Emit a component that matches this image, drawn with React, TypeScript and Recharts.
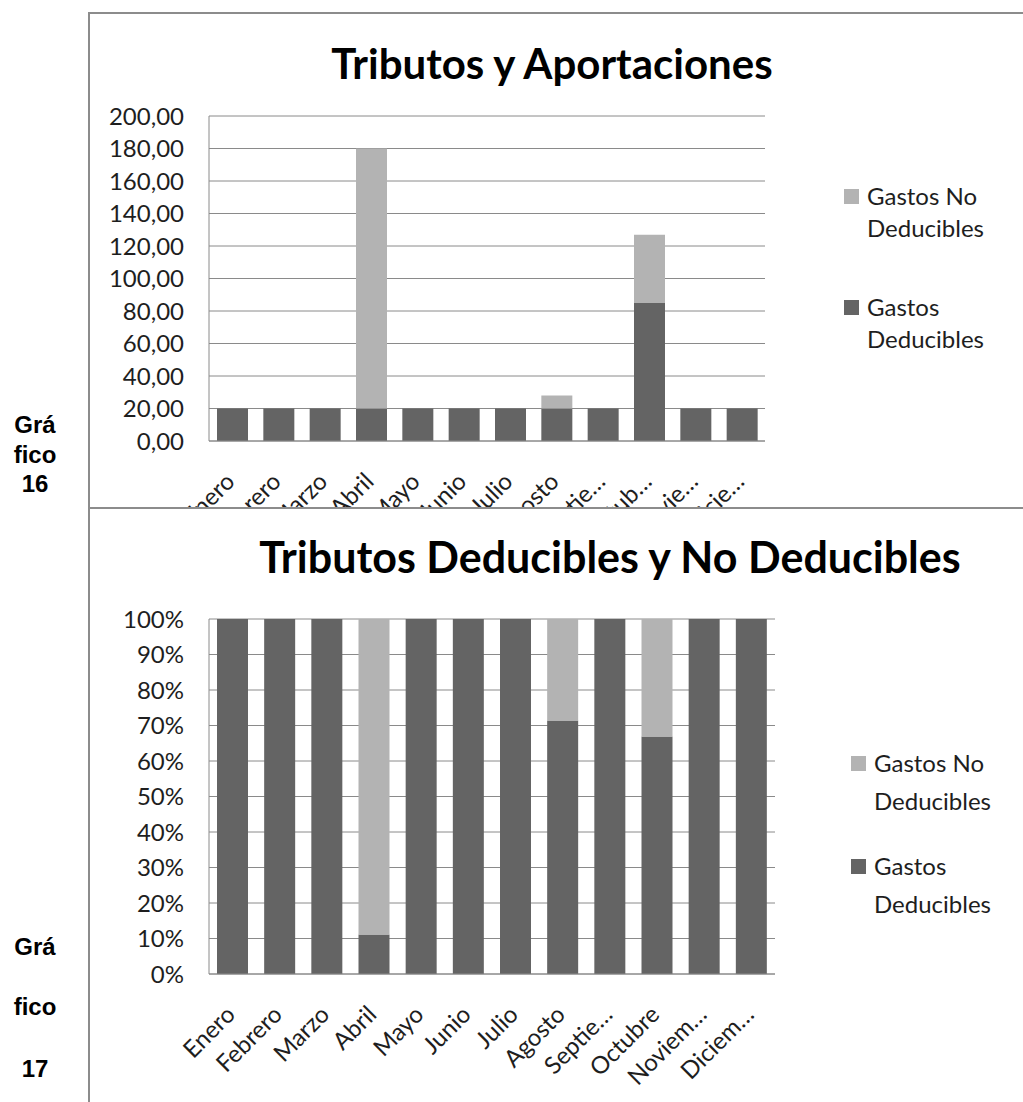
import { Bar, BarChart, CartesianGrid, XAxis, YAxis } from 'recharts';

const months = ['Enero', 'Febrero', 'Marzo', 'Abril', 'Mayo', 'Junio', 'Julio', 'Agosto', 'Septiembre', 'Octubre', 'Noviembre', 'Diciembre'];
const topMonthLabels = ['Enero', 'Febrero', 'Marzo', 'Abril', 'Mayo', 'Junio', 'Julio', 'Agosto', 'Septie…', 'Octub…', 'Novie…', 'Dicie…'];
const bottomMonthLabels = ['Enero', 'Febrero', 'Marzo', 'Abril', 'Mayo', 'Junio', 'Julio', 'Agosto', 'Septie…', 'Octubre', 'Noviem…', 'Diciem…'];
const gastosDeducibles = [20, 20, 20, 20, 20, 20, 20, 20, 20, 85, 20, 20];
const gastosNoDeducibles = [0, 0, 0, 160, 0, 0, 0, 8, 0, 42, 0, 0];
const valueTicks = [0, 20, 40, 60, 80, 100, 120, 140, 160, 180, 200];
const percentTicks = [0, 0.1, 0.2, 0.3, 0.4, 0.5, 0.6, 0.7, 0.8, 0.9, 1];

const data = months.map((mes, i) => ({
  mes,
  deducibles: gastosDeducibles[i],
  noDeducibles: gastosNoDeducibles[i],
}));

const DARK = '#646464';
const LIGHT = '#b3b3b3';
const GRID = '#8a8a8a';
const TEXT = '#1e1e1e';
const FONT = 'Lato, "Open Sans", sans-serif';

function MonthTick({ x, y, payload, labels }: any) {
  const tx = x + 4;
  const ty = y + 40;
  return (
    <text x={tx} y={ty} transform={`rotate(-45, ${tx}, ${ty})`} textAnchor="end" fontSize={24} fontFamily={FONT} fill={TEXT}>
      {labels[payload.index]}
    </text>
  );
}

function Legend({ x, y1, y2, lh }: { x: number; y1: number; y2: number; lh: number }) {
  return (
    <g fontFamily={FONT} fontSize={24} fill={TEXT}>
      <rect x={x} y={y1 - 16} width={15} height={15} fill={LIGHT} />
      <text x={x + 23} y={y1}>Gastos No</text>
      <text x={x + 23} y={y1 + lh}>Deducibles</text>
      <rect x={x} y={y2 - 16} width={15} height={15} fill={DARK} />
      <text x={x + 23} y={y2}>Gastos</text>
      <text x={x + 23} y={y2 + lh}>Deducibles</text>
    </g>
  );
}

function SideLabel({ ys, num }: { ys: number[]; num: string }) {
  return (
    <g fontFamily='"Liberation Sans", Arial, sans-serif' fontWeight="bold" fontSize={24} fill="#000" textAnchor="middle">
      <text x={35} y={ys[0]}>Grá</text>
      <text x={35} y={ys[1]}>fico</text>
      <text x={35} y={ys[2]}>{num}</text>
    </g>
  );
}

const box = (top: number, height: number): React.CSSProperties => ({
  position: 'absolute',
  left: 88,
  top,
  width: 1100,
  height,
  border: '2px solid #8c8c8c',
  background: '#fff',
  boxSizing: 'border-box',
});

export default function App() {
  return (
    <div style={{ position: 'absolute', left: 0, top: 0, width: 1023, height: 1102, overflow: 'hidden', background: '#fff' }}>
      <div style={box(12, 600)} />
      <div style={{ position: 'absolute', left: 88, top: 13 }}>
        <BarChart width={935} height={495} data={data} margin={{ top: 103, right: 258, bottom: 37, left: 0 }} barSize={31}>
          <CartesianGrid vertical={false} stroke={GRID} />
          <XAxis
            dataKey="mes"
            interval={0}
            height={30}
            tickLine={false}
            tickSize={0}
            axisLine={{ stroke: GRID }}
            tick={(p: any) => <MonthTick {...p} labels={topMonthLabels} />}
          />
          <YAxis
            domain={[0, 200]}
            ticks={valueTicks}
            interval={0}
            width={121}
            tickLine={false}
            tickSize={0}
            tickMargin={25}
            axisLine={{ stroke: GRID }}
            tickFormatter={(v: number) => v.toFixed(2).replace('.', ',')}
            tick={{ fill: TEXT, fontSize: 24, fontFamily: FONT }}
          />
          <Bar dataKey="deducibles" stackId="a" fill={DARK} isAnimationActive={false} />
          <Bar dataKey="noDeducibles" stackId="a" fill={LIGHT} isAnimationActive={false} />
        </BarChart>
      </div>

      <div style={box(507, 700)} />
      <div style={{ position: 'absolute', left: 88, top: 508 }}>
        <BarChart width={935} height={594} data={data} stackOffset="expand" margin={{ top: 111, right: 248, bottom: 98, left: 0 }} barSize={31}>
          <CartesianGrid vertical={false} stroke={GRID} />
          <XAxis
            dataKey="mes"
            interval={0}
            height={30}
            tickLine={false}
            tickSize={0}
            axisLine={{ stroke: GRID }}
            tick={(p: any) => <MonthTick {...p} labels={bottomMonthLabels} />}
          />
          <YAxis
            domain={[0, 1]}
            ticks={percentTicks}
            interval={0}
            width={121}
            tickLine={false}
            tickSize={0}
            tickMargin={25}
            axisLine={{ stroke: GRID }}
            tickFormatter={(v: number) => `${Math.round(v * 100)}%`}
            tick={{ fill: TEXT, fontSize: 24, fontFamily: FONT }}
          />
          <Bar dataKey="deducibles" stackId="a" fill={DARK} isAnimationActive={false} />
          <Bar dataKey="noDeducibles" stackId="a" fill={LIGHT} isAnimationActive={false} />
        </BarChart>
      </div>

      <svg width={1023} height={1102} style={{ position: 'absolute', left: 0, top: 0, pointerEvents: 'none' }}>
        <text x={552} y={79} textAnchor="middle" fontFamily={FONT} fontWeight="bold" fontSize={42} fill="#000">
          Tributos y Aportaciones
        </text>
        <text x={610} y={573} textAnchor="middle" fontFamily={FONT} fontWeight="bold" fontSize={43} fill="#000">
          Tributos Deducibles y No Deducibles
        </text>
        <Legend x={844} y1={205} y2={316} lh={32} />
        <Legend x={851} y1={772} y2={875} lh={38} />
        <SideLabel ys={[433, 463, 492]} num="16" />
        <SideLabel ys={[955, 1015, 1077]} num="17" />
      </svg>
    </div>
  );
}
